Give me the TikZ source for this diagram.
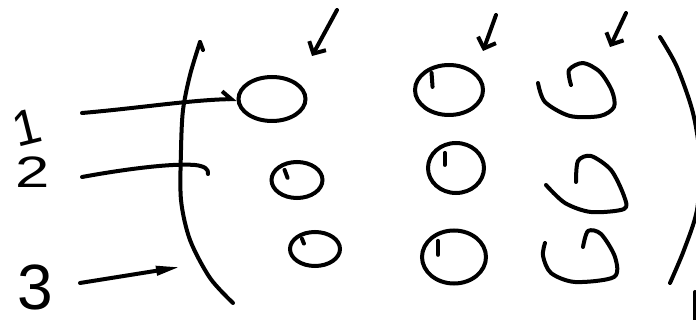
\documentclass[tikz,border=0pt]{standalone}
\usepackage{fontspec}
\setmainfont{Liberation Sans}
\usetikzlibrary{arrows.meta,shapes.geometric,calc}
\tikzset{
  ink/.style={line width=4pt, line cap=round, line join=round},
  ring/.style={ellipse, draw, line width=4pt, inner sep=0pt},
  pointer/.style={ink, -{Straight Barb[left, length=9pt, width=16pt]}},
  tickmark/.style={ink, -{Straight Barb[length=9pt, width=19pt]}},
  headarrow/.style={ink, -{Triangle[length=24pt, width=9pt]}},
  digit/.style={inner sep=0pt}
}

\begin{document}
\begin{tikzpicture}[x=1pt, y=-1pt]
    \useasboundingbox (0,0) rectangle (696,320);

    % row labels
    \node[digit, font=\fontsize{50}{50}\selectfont, rotate=14] (one) at (27,127) {1};
    \node[digit, font=\fontsize{44}{44}\selectfont] (two) at (33,172) {\scalebox{1.4}[1]{2}};
    \node[digit, font=\fontsize{64}{64}\selectfont] (three) at (35,287) {3};

    % filled-in circles
    \node[ring, minimum width=67pt, minimum height=44pt] (c11) at (272,99) {};
    \node[ring, minimum width=51pt, minimum height=36pt] (c21) at (297,180) {};
    \node[ring, minimum width=50pt, minimum height=34pt] (c31) at (315,249) {};
    \node[ring, minimum width=68pt, minimum height=50pt] (c12) at (449,90) {};
    \node[ring, minimum width=56pt, minimum height=50pt] (c22) at (456,168) {};
    \node[ring, minimum width=64pt, minimum height=53pt] (c32) at (454,257) {};
    % pen overlaps
    \draw[ink] (c12.north west) ++(8,2) -- ++(1,14);
    \draw[ink] (c22.north west) ++(10,4) -- ++(0,12);
    \draw[ink] (c32.north west) ++(8,4) -- ++(0,14);
    \draw[ink] (c21.north west) ++(7,4) -- ++(3,8);
    \draw[ink] (c31.north west) ++(6,3) -- ++(2,5);

    % open circles
    \draw[ink] plot[smooth] coordinates {(538,83) (545,102) (570,116) (600,116) (614,107) (612,91) (600,72) (583,63) (569,70) (571,85)};
    \draw[ink] plot[smooth] coordinates {(546,185) (565,203) (591,212) (624,209) (624,196) (611,170) (591,156) (578,161) (576,182)};
    \draw[ink] plot[smooth] coordinates {(545,243) (543,256) (551,273) (575,282) (614,277) (615,257) (601,234) (588,231) (583,247)};

    % brackets
    \draw[ink] (203,50) -- (200,42);
    \draw[ink] plot[smooth] coordinates {(200,42) (190,75) (183,110) (181,150) (181,200) (190,240) (210,278) (233,303)};
    \draw[ink] plot[smooth] coordinates {(660,37) (677,67) (693,113) (700,160) (697,210) (684,250) (670,283)};
    \draw[ink] (695,292) -- (695,325);

    % ticks
    \coordinate (k1) at (337,10);
    \coordinate (k2) at (496,15);
    \coordinate (k3) at (626,13);
    \draw[tickmark] (k1) -- (312,56);
    \draw[tickmark] (k2) -- (483,51);
    \draw[tickmark] (k3) -- (610,47);

    % row pointers
    \coordinate (a1) at (82,113);
    \coordinate (a2) at (82,177);
    \coordinate (a3) at (80,283);
    \coordinate (b3) at (180,267);
    \draw[pointer] (a1) .. controls (140,108) and (190,100) .. (c11.west);
    \draw[ink] (a2) .. controls (120,170) and (170,163) .. (195,165)
      .. controls (204,166) and (209,169) .. (208,174);
    \draw[headarrow] (a3) -- (b3);
  \end{tikzpicture}
\end{document}
